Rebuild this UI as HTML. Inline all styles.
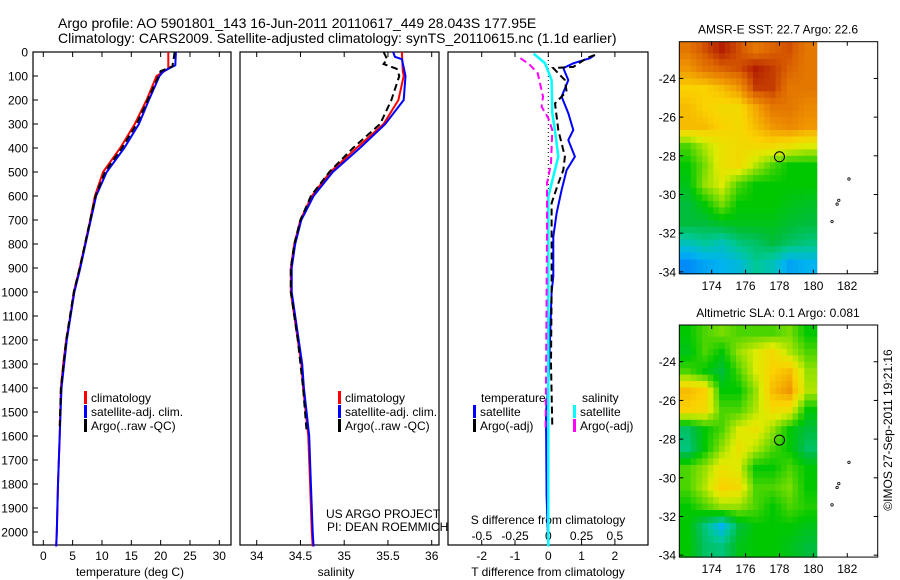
<!DOCTYPE html>
<html><head><meta charset="utf-8"><style>
html,body{margin:0;padding:0;background:#fff;}
svg{display:block;font-family:"Liberation Sans",sans-serif;}
</style></head><body>
<svg id="c" width="900" height="580" xmlns="http://www.w3.org/2000/svg"></svg>
<script>
// ---------- data ----------
const depthTicks=[0,100,200,300,400,500,600,700,800,900,1000,1100,1200,1300,1400,1500,1600,1700,1800,1900,2000];
const tempTicks=[0,5,10,15,20,25,30];
const salTicks=[34,34.5,35,35.5,36];
const tdTicks=[-2,-1,0,1,2];
const sdTicks=[-0.5,-0.25,0,0.25,0.5];
const latTicks=[-24,-26,-28,-30,-32,-34];
const lonTicks=[174,176,178,180,182];

const tClimDepth=[0,70,100,200,300,400,500,600,700,800,900,1000,1100,1200,1300,1400,1600,1800,2000,2060];
const tClim=[21.3,21.3,19.3,17.6,15.6,13.1,10.2,8.8,8.0,7.1,6.2,5.2,4.6,3.9,3.4,3.0,2.8,2.5,2.3,2.2];
const tSatDepth=[0,55,80,100,200,300,400,500,600,700,800,900,1000,1200,1400,1600,1800,2000,2060];
const tSat=[22.6,22.5,20.5,19.8,18.0,16.3,13.8,10.8,9.0,8.1,7.2,6.3,5.3,4.0,3.1,2.8,2.5,2.3,2.2];
const tArgoDepth=[0,60,80,200,300,400,500,600,700,800,900,1000,1200,1400,1560];
const tArgo=[22.4,22.0,20.0,17.8,15.9,13.4,10.5,8.9,8.0,7.1,6.2,5.2,3.9,3.0,2.8];

const sClimDepth=[0,80,100,200,300,400,500,600,700,800,900,1000,1100,1200,1300,1400,1500,1600,1800,2000,2060];
const sClim=[35.66,35.67,35.68,35.62,35.45,35.14,34.84,34.63,34.5,34.43,34.39,34.39,34.43,34.47,34.51,34.53,34.56,34.59,34.61,34.63,34.64];
const sSatDepth=[0,20,30,100,200,300,400,500,600,700,800,900,1000,1100,1200,1300,1400,1500,1600,1800,2000,2060];
const sSat=[35.56,35.58,35.66,35.70,35.68,35.47,35.18,34.87,34.65,34.51,34.44,34.4,34.4,34.44,34.48,34.52,34.54,34.57,34.6,34.62,34.64,34.65];
const sArgoDepth=[0,30,50,70,100,200,300,400,500,600,700,800,900,1000,1200,1400,1580];
const sArgo=[35.45,35.49,35.45,35.6,35.63,35.54,35.41,35.1,34.83,34.62,34.5,34.43,34.39,34.39,34.47,34.53,34.57];

const tdSatDepth=[12,26,47,67,117,186,255,325,367,436,492,575,672,770,936,1000,1200,1400,1500,1850,2060];
const tdSat=[1.4,1.25,0.75,0.45,0.6,0.4,0.6,0.75,0.6,0.8,0.55,0.4,0.25,0.15,0.15,0.1,0.05,0,-0.07,-0.05,0];
const tdArgoDepth=[12,26,62,67,117,165,214,325,436,492,547,630,742,1000,1300,1560];
const tdArgo=[1.4,1.15,0.75,0.15,0.5,0.55,0.2,0.3,0.5,0.45,0.3,0.1,0.1,0.1,0.08,0.12];
const sdSatDepth=[7,47,117,255,325,436,492,603,742,1000,1500,2060];
const sdSat=[-0.11,-0.025,0.025,0.03,0.05,0.075,0.05,0.0,0.0,0.0,0.0,0.0];
const sdArgoDepth=[26,53,88,186,228,276,325,464,547,742,1200,1570];
const sdArgo=[-0.21,-0.14,-0.08,-0.04,-0.05,0,0.03,0.02,-0.01,-0.01,-0.015,-0.02];

const gridLons=[172.1,173.1,174.1,175.1,176.1,177.1,178.1,179.1,180.2];
const gridLats=[-22.1,-23,-24,-25,-26,-27,-28,-29,-30,-31,-32,-33,-34.1];
const sstGrid=[
[0.85,0.9,0.95,0.9,0.85,0.88,0.9,0.85],
[0.8,0.85,0.88,0.9,0.95,0.92,0.88,0.85],
[0.72,0.72,0.75,0.8,0.92,0.92,0.85,0.85],
[0.75,0.72,0.7,0.7,0.78,0.85,0.85,0.82],
[0.75,0.75,0.72,0.7,0.75,0.8,0.82,0.8],
[0.55,0.62,0.68,0.7,0.7,0.7,0.68,0.65],
[0.5,0.58,0.68,0.7,0.62,0.55,0.5,0.5],
[0.48,0.6,0.65,0.55,0.5,0.5,0.5,0.5],
[0.45,0.5,0.58,0.5,0.5,0.5,0.48,0.47],
[0.45,0.45,0.47,0.48,0.48,0.48,0.46,0.45],
[0.35,0.38,0.35,0.4,0.42,0.45,0.42,0.4],
[0.25,0.28,0.3,0.32,0.38,0.35,0.28,0.3]];
const slaGrid=[
[0.5,0.55,0.58,0.55,0.55,0.55,0.58,0.5],
[0.48,0.55,0.5,0.6,0.65,0.7,0.62,0.55],
[0.55,0.5,0.45,0.55,0.65,0.72,0.75,0.6],
[0.75,0.72,0.5,0.5,0.6,0.75,0.8,0.62],
[0.72,0.7,0.55,0.55,0.62,0.7,0.68,0.5],
[0.42,0.5,0.55,0.65,0.68,0.6,0.5,0.45],
[0.4,0.5,0.6,0.68,0.62,0.55,0.5,0.42],
[0.55,0.6,0.68,0.65,0.5,0.5,0.55,0.5],
[0.55,0.62,0.72,0.7,0.55,0.55,0.58,0.5],
[0.5,0.55,0.6,0.6,0.55,0.5,0.55,0.52],
[0.5,0.4,0.3,0.45,0.5,0.5,0.5,0.48],
[0.5,0.42,0.4,0.48,0.5,0.5,0.48,0.45]];

// ---------- helpers ----------
const svg=document.getElementById('c');
const NS='http://www.w3.org/2000/svg';
function mk(tag,at,parent){const e=document.createElementNS(NS,tag);for(const k in at)e.setAttribute(k,at[k]);(parent||svg).appendChild(e);return e;}
function txt(s,x,y,anchor,name,extra){const e=mk('text',Object.assign({x:x,y:y,'font-size':12,'text-anchor':anchor||'start',fill:'#000'},extra||{}));e.textContent=s;


return e;}
const Y=d=>52+d*0.24;
const tX=v=>43.3+v*5.867;
const sX=v=>256.7+(v-34)*87.5;
const tdX=v=>548.3+v*33.3;
const sdX=v=>548.3+v*133;
const PB=545;

function panel(x0,x1,name){
 const r=mk('rect',{x:x0,y:52,width:x1-x0,height:PB-52,fill:'none',stroke:'#000','stroke-width':1.2});
 
 
}
function line(xs,ds,xf,color,w,dash,name){
 const p=xs.map((v,i)=>xf(v).toFixed(1)+','+Y(ds[i]).toFixed(1)).join(' ');
 const e=mk('polyline',{points:p,fill:'none',stroke:color,'stroke-width':w});
 if(dash)e.setAttribute('stroke-dasharray',dash);
 
 
}
function xticks(ticks,xf,x0,x1,labY,name,fmt){
 ticks.forEach(t=>{const x=xf(t);
  mk('line',{x1:x,y1:52,x2:x,y2:57,stroke:'#000'});
  mk('line',{x1:x,y1:PB,x2:x,y2:PB-5,stroke:'#000'});
  if(labY)txt(fmt?fmt(t):String(t),x,labY,'middle',name);});
}
function legendItem(x,y,color,label,name){
 const b=mk('rect',{x:x,y:y-11,width:3,height:13,fill:color});
 
 
 txt(label,x+7,y,'start',name);
}

// ---------- title ----------
txt('Argo profile: AO 5901801_143 16-Jun-2011 20110617_449 28.043S 177.95E',58,28,'start','title-line-1',{'font-size':14});
txt('Climatology: CARS2009. Satellite-adjusted climatology: synTS_20110615.nc (1.1d earlier)',58,43,'start','title-line-2',{'font-size':14});

// ---------- panels ----------
panel(33,231,'temperature-panel');
panel(240,439,'salinity-panel');
panel(448,648,'difference-panel');
depthTicks.forEach(d=>{const y=Y(d);
 mk('line',{x1:33,y1:y,x2:38,y2:y,stroke:'#000'});
 txt(String(d),28,y+4.5,'end','depth-tick-label');});
xticks(tempTicks,tX,33,231,560,'temperature-tick-label');
xticks(salTicks,sX,240,439,560,'salinity-tick-label');
xticks(tdTicks,tdX,448,648,560,'t-diff-tick-label');
sdTicks.forEach(t=>txt(String(t),sdX(t),540,'middle','s-diff-tick-label'));
txt('temperature (deg C)',130,576,'middle','temperature-axis-title');
txt('salinity',336,576,'middle','salinity-axis-title');
txt('T difference from climatology',548,576,'middle','t-diff-axis-title');
txt('S difference from climatology',548,524,'middle','s-diff-axis-title');

line(tClim,tClimDepth,tX,'#f00',2,null,'temp-climatology-line');
line(tSat,tSatDepth,tX,'#00f',2,null,'temp-satellite-line');
line(tArgo,tArgoDepth,tX,'#000',2,'7,4','temp-argo-line');
line(sClim,sClimDepth,sX,'#f00',2,null,'sal-climatology-line');
line(sSat,sSatDepth,sX,'#00f',2,null,'sal-satellite-line');
line(sArgo,sArgoDepth,sX,'#000',2,'7,4','sal-argo-line');
mk('line',{x1:548.3,y1:52,x2:548.3,y2:PB,stroke:'#000','stroke-dasharray':'1,3'});
line(tdSat,tdSatDepth,tdX,'#00f',2,null,'tdiff-satellite-line');
line(tdArgo,tdArgoDepth,tdX,'#000',2,'7,4','tdiff-argo-line');
line(sdSat,sdSatDepth,sdX,'#0ff',2.5,null,'sdiff-satellite-line');
line(sdArgo,sdArgoDepth,sdX,'#f0f',2,'7,4','sdiff-argo-line');

legendItem(84,402,'#f00','climatology','legend-climatology');
legendItem(84,416,'#00f','satellite-adj. clim.','legend-satellite-adj');
legendItem(84,430,'#000','Argo(..raw -QC)','legend-argo');
legendItem(338,402,'#f00','climatology','legend2-climatology');
legendItem(338,416,'#00f','satellite-adj. clim.','legend2-satellite-adj');
legendItem(338,430,'#000','Argo(..raw -QC)','legend2-argo');
txt('temperature',481,402,'start','legend-temperature-heading');
txt('salinity',582,402,'start','legend-salinity-heading');
legendItem(473,416,'#00f','satellite','legend-t-satellite');
legendItem(473,430,'#000','Argo(-adj)','legend-t-argo');
legendItem(573,416,'#0ff','satellite','legend-s-satellite');
legendItem(573,430,'#f0f','Argo(-adj)','legend-s-argo');
txt('US ARGO PROJECT',326,518,'start','credit-project');
txt('PI: DEAN ROEMMICH',327,531,'start','credit-pi');

// ---------- maps ----------
const stops=[[0,[0,0,140]],[0.2,[0,100,255]],[0.3,[0,180,240]],[0.38,[0,200,150]],[0.45,[0,190,60]],[0.5,[0,200,0]],[0.58,[120,220,0]],[0.65,[220,235,0]],[0.72,[250,210,0]],[0.8,[240,150,0]],[0.88,[220,100,0]],[0.95,[180,30,0]],[1,[160,0,0]]];
function cmap(v){for(let i=1;i<stops.length;i++){if(v<=stops[i][0]){const a=stops[i-1],b=stops[i],f=(v-a[0])/(b[0]-a[0]);return 'rgb('+a[1].map((c,k)=>Math.round(c+(b[1][k]-c)*f)).join(',')+')';}}return 'rgb(160,0,0)';}
// bilinear sample of grid (fractional row/col in cell-center coords)
function sample(grid,fr,fc){
 const R=grid.length-1,C=grid[0].length-1;
 fr=Math.max(0,Math.min(R,fr));fc=Math.max(0,Math.min(C,fc));
 const r0=Math.floor(fr),c0=Math.floor(fc),r1=Math.min(R,r0+1),c1=Math.min(C,c0+1),a=fr-r0,b=fc-c0;
 return grid[r0][c0]*(1-a)*(1-b)+grid[r0][c1]*(1-a)*b+grid[r1][c0]*a*(1-b)+grid[r1][c1]*a*b;
}
function map(top,grid,title,name){
 const L=679.3,R=877.7,lonL=172.09,ppl=16.95,ppd=19.34,latTop=-22.1;
 const mx=lon=>L+(lon-lonL)*ppl, my=lat=>top+(latTop-lat)*ppd;
 const bottom=my(-34.1);
 const g=mk('g',{});
 
 
 const SUB=3;
 grid.forEach((row,r)=>row.forEach((v,c)=>{
  const x0=mx(gridLons[c]),x1=mx(gridLons[c+1]),y0=my(gridLats[r]),y1=my(gridLats[r+1]);
  for(let i=0;i<SUB;i++)for(let j=0;j<SUB;j++){
   const fr=r+(i+0.5)/SUB-0.5, fc=c+(j+0.5)/SUB-0.5;
   const val=sample(grid,fr,fc);
   const sx=x0+(x1-x0)*j/SUB, sy=y0+(y1-y0)*i/SUB;
   const cell=mk('rect',{x:sx.toFixed(1),y:sy.toFixed(1),width:((x1-x0)/SUB+0.6).toFixed(1),height:((y1-y0)/SUB+0.6).toFixed(1),fill:cmap(val)},g);
   
   
  }
 }));
 const fr=mk('rect',{x:L,y:top,width:R-L,height:bottom-top,fill:'none',stroke:'#000','stroke-width':1});
 
 
 latTicks.forEach(t=>{const y=my(t);
  mk('line',{x1:L,y1:y,x2:L+4,y2:y,stroke:'#000'});mk('line',{x1:R,y1:y,x2:R-4,y2:y,stroke:'#000'});
  txt(String(t),676,y+4.5,'end',name+'-lat-label');});
 lonTicks.forEach(t=>{const x=mx(t);
  mk('line',{x1:x,y1:top,x2:x,y2:top+4,stroke:'#000'});mk('line',{x1:x,y1:bottom,x2:x,y2:bottom-4,stroke:'#000'});
  txt(String(t),x,bottom+16,'middle',name+'-lon-label');});
 txt(title,778,top-8,'middle',name+'-title');
 const c=mk('circle',{cx:mx(178),cy:my(-28.05),r:5,fill:'none',stroke:'#000','stroke-width':1});
 
 
 [[182.1,-29.2],[181.5,-30.3],[181.4,-30.5],[181.1,-31.4]].forEach(p=>{
  const d=mk('circle',{cx:mx(p[0]),cy:my(p[1]),r:1.2,fill:'none',stroke:'#000','stroke-width':0.8});
  
  });
}
map(41.7,sstGrid,'AMSR-E SST: 22.7 Argo: 22.6','sst-map');
map(325,slaGrid,'Altimetric SLA: 0.1 Argo: 0.081','sla-map');
txt('\u00a9IMOS 27-Sep-2011 19:21:16',0,0,'middle','timestamp',{transform:'translate(892,430) rotate(-90)'});
</script>
</body></html>
